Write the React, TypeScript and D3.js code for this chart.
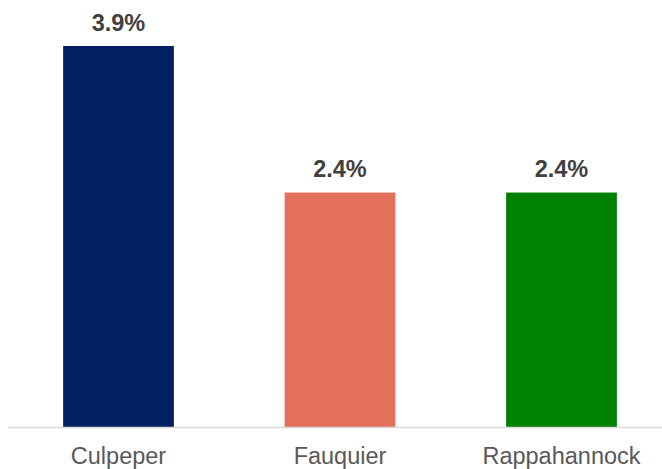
import React from "react";
import * as d3 from "d3";

const categories = ["Culpeper", "Fauquier", "Rappahannock"];
const values = [3.9, 2.4, 2.4];
const colors = ["#002060", "#E2705D", "#008000"];

const W = 662;
const H = 469;

export default function App() {
  const x = d3
    .scaleBand<string>()
    .domain(categories)
    .range([7.75, 672.25])
    .paddingInner(0.5)
    .paddingOuter(0.25);
  const y = d3.scaleLinear().domain([0, 3.9]).range([427, 46]);
  const fmt = (v: number) => d3.format(".1f")(v) + "%";

  return (
    <svg
      width={W}
      height={H}
      style={{ position: "absolute", left: 0, top: 0, display: "block" }}
      fontFamily="'Liberation Sans', Arial, sans-serif"
    >
      <rect width={W} height={H} fill="#ffffff" />
      {categories.map((c, i) => (
        <g key={c}>
          <rect
            x={x(c)!}
            y={y(values[i])}
            width={x.bandwidth()}
            height={y(0) - y(values[i])}
            fill={colors[i]}
          />
          <text
            x={x(c)! + x.bandwidth() / 2}
            y={y(values[i]) - 15.5}
            textAnchor="middle"
            fontSize={23.5}
            fontWeight="bold"
            fill="#404040"
          >
            {fmt(values[i])}
          </text>
          <text
            x={x(c)! + x.bandwidth() / 2}
            y={464}
            textAnchor="middle"
            fontSize={23.5}
            fill="#595959"
          >
            {c}
          </text>
        </g>
      ))}
      <line x1={8} x2={662} y1={427.5} y2={427.5} stroke="#d9d9d9" strokeWidth={1.5} />
    </svg>
  );
}
